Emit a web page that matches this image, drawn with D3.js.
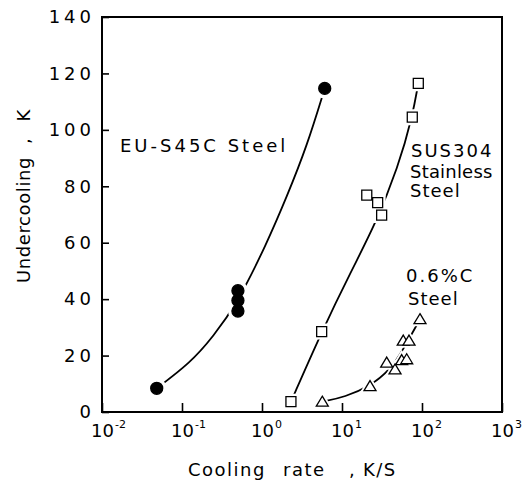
<!DOCTYPE html>
<html>
<head>
<meta charset="utf-8">
<script src="https://cdn.jsdelivr.net/npm/d3@7"></script>
<style>
  body { margin: 0; background: #fff; }
  svg { display: block; font-family: "DejaVu Sans", sans-serif; }
  .axis path.domain { display: none; }
  .axis line { stroke: #000; stroke-width: 1.6; }
  .frame { fill: none; stroke: #000; stroke-width: 2; }
  .curve { fill: none; stroke: #000; stroke-width: 1.8; }
  .halo { fill: #fff; stroke: #fff; }
</style>
</head>
<body>
<svg id="chart" width="526" height="483"></svg>
<script>
// values (cooling rate K/s, undercooling K)
const euPts = [[0.0483, 8.4], [0.5, 43], [0.5, 39.5], [0.5, 35.8], [6.08, 114.7]]
const euCurve = [[0.0483, 8.4], [0.126, 17.3], [0.246, 26.7], [0.5, 39], [1.15, 59.8],
  [2.04, 76.3], [3.62, 94], [6.08, 114.7]]

const susPts = [[2.3, 3.65], [5.57, 28.5], [20.4, 76.9], [27.9, 74.2], [31.3, 69.8], [75.6, 104.5], [89.9, 116.5]]
const susCurve = [[2.3, 3.65], [5.57, 28.5], [13.2, 50.3], [25.9, 66.3], [50.6, 87],
  [75.6, 104.5], [89.9, 116.5]]

const c06Pts = [[5.67, 3.65], [22.4, 9.2], [36.2, 17.5], [46, 15.1], [55.7, 18.4],
  [64.4, 18.7], [58.3, 25.3], [68.8, 25.3], [94.4, 32.9]]
const c06Curve = [[5.67, 3.65], [10.9, 5.3], [22.4, 9.2], [39.8, 14.9], [57.9, 22], [94.4, 32.9]]

const xTicks = [1e-2, 1e-1, 1, 10, 100, 1000]
const xTickExp = ['-2', '-1', '0', '1', '2', '3']
const yTicks = [0, 20, 40, 60, 80, 100, 120, 140]

const svg = d3.select('#chart')

const x = d3.scaleLog().domain([1e-2, 1e3]).range([102, 502])
const y = d3.scaleLinear().domain([0, 140]).range([412, 17])

// frame
svg.append('rect')
  .attr('class', 'frame')
  .attr('x', x.range()[0])
  .attr('y', y.range()[1])
  .attr('width', x.range()[1] - x.range()[0])
  .attr('height', y.range()[0] - y.range()[1])

// y axis
const yAxis = svg.append('g')
  .attr('class', 'axis')
  .attr('transform', `translate(${x.range()[0]},0)`)
  .call(d3.axisLeft(y).tickValues(yTicks).tickSize(-7).tickPadding(7))

yAxis.selectAll('.tick text')
  .attr('font-size', 18)
  .attr('letter-spacing', 4)
  .attr('fill', '#000')
  .attr('font-family', 'DejaVu Sans')

// x axis
const xAxis = svg.append('g')
  .attr('class', 'axis')
  .attr('transform', `translate(0,${y.range()[0]})`)
  .call(d3.axisBottom(x).tickValues(xTicks).tickSize(-9).tickFormat(''))

xAxis.selectAll('.tick').each(function(d, i) {
  const t = d3.select(this).append('text')
    .attr('x', -11.5)
    .attr('y', 25)
    .attr('text-anchor', 'start')
    .attr('fill', '#000')
    .attr('font-family', 'DejaVu Sans')
  t.append('tspan').attr('font-size', 18).text('10')
  t.append('tspan').attr('font-size', 11).attr('dy', -9).attr('dx', 1).text(xTickExp[i])
})

// axis titles
const yTitle = svg.append('g')
  .attr('transform', 'translate(30,0) rotate(-90)')
  .attr('font-size', 18)
yTitle.append('text').attr('x', -283).attr('letter-spacing', 0.6).text('Undercooling')
yTitle.append('text').attr('x', -144).text(',')
yTitle.append('text').attr('x', -121.5).text('K')

const xTitle = svg.append('g')
  .attr('transform', 'translate(0,476)')
  .attr('font-size', 18)
  .attr('letter-spacing', 1.5)
xTitle.append('text').attr('x', 188).text('Cooling')
xTitle.append('text').attr('x', 283).text('rate')
xTitle.append('text').attr('x', 349).text(',')
xTitle.append('text').attr('x', 363).text('K/S')

// curves (hand-drawn fits, smoothed)
const line = d3.line()
  .x(d => x(d[0]))
  .y(d => y(d[1]))
  .curve(d3.curveBasis)

svg.selectAll('path.curve')
  .data([euCurve, susCurve, c06Curve])
  .enter()
  .append('path')
  .attr('class', 'curve')
  .attr('d', line)

// markers
const square = 'M-5,-5H5V5H-5Z'
const tri = 'M0,-5.5L6,4.5H-6Z'

function markers(pts, shape, opts) {
  const g = svg.append('g')
  g.selectAll('path.halo')
    .data(pts)
    .enter()
    .append('path')
    .attr('class', 'halo')
    .attr('d', shape)
    .attr('stroke-width', opts.halo)
    .attr('transform', d => `translate(${x(d[0])},${y(d[1])})`)
  g.selectAll('path.mark')
    .data(pts)
    .enter()
    .append('path')
    .attr('class', 'mark')
    .attr('d', shape)
    .attr('fill', opts.fill)
    .attr('stroke', '#000')
    .attr('stroke-width', 1.3)
    .attr('transform', d => `translate(${x(d[0])},${y(d[1])})`)
}

markers(euPts, d3.symbol(d3.symbolCircle, Math.PI * 36)(), { fill: '#000', halo: 8 })
markers(susPts, square, { fill: '#fff', halo: 6 })
markers(c06Pts, tri, { fill: '#fff', halo: 5 })

// series labels
const labels = svg.append('g').attr('font-size', 18)
labels.append('text').attr('x', 120).attr('y', 152).attr('letter-spacing', 3).text('EU-S45C Steel')
labels.append('text').attr('x', 411).attr('y', 157).attr('letter-spacing', 2).text('SUS304')
labels.append('text').attr('x', 410).attr('y', 178).attr('letter-spacing', 0.2).text('Stainless')
labels.append('text').attr('x', 410).attr('y', 197).attr('letter-spacing', 1).text('Steel')
labels.append('text').attr('x', 406).attr('y', 282).attr('letter-spacing', 2).text('0.6%C')
labels.append('text').attr('x', 408).attr('y', 305).attr('letter-spacing', 1).text('Steel')
</script>
</body>
</html>
